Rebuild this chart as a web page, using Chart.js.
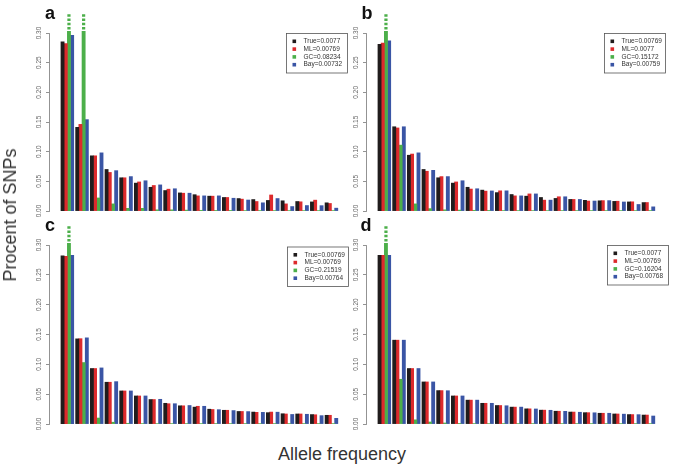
<!DOCTYPE html>
<html><head><meta charset="utf-8">
<script src="https://cdn.jsdelivr.net/npm/chart.js@4.4.0/dist/chart.umd.min.js"></script>
<style>
html,body{margin:0;padding:0;background:#fff;}
#wrap{position:relative;width:683px;height:467px;overflow:hidden;font-family:"Liberation Sans",Arial,sans-serif;background:#fff;}
canvas{position:absolute;}
#ytitle{position:absolute;left:10px;top:215px;transform:translate(-50%,-50%) rotate(-90deg);font-size:18px;line-height:18px;color:#333;white-space:nowrap;}
#xtitle{position:absolute;left:342px;top:445px;transform:translateX(-50%);font-size:18px;line-height:18px;color:#333;white-space:nowrap;}
</style></head>
<body>
<div id="wrap">
<canvas id="pa" width="350" height="222" style="left:0;top:0"></canvas>
<canvas id="pb" width="353" height="222" style="left:330px;top:0"></canvas>
<canvas id="pc" width="350" height="222" style="left:0;top:212px"></canvas>
<canvas id="pd" width="353" height="222" style="left:330px;top:212px"></canvas>
<div id="ytitle">Procent of SNPs</div>
<div id="xtitle">Allele frequency</div>
</div>
<script>
// ---- data ----
const categories = [1,2,3,4,5,6,7,8,9,10,11,12,13,14,15,16,17,18,19];
const seriesNames = ['True','ML','GC','Bay'];
const yTicks = [0, 0.05, 0.10, 0.15, 0.20, 0.25, 0.30];
const yTickLabels = ['0.00','0.05','0.10','0.15','0.20','0.25','0.30'];

const aTrue = [0.285,0.141,0.093,0.070,0.056,0.047,0.040,0.0345,0.0305,0.0275,0.025,0.0228,0.021,0.0193,0.0178,0.0172,0.016,0.0153,0.0138];
const aML   = [0.282,0.146,0.093,0.065,0.056,0.049,0.043,0.0368,0.030,0.0255,0.025,0.0228,0.020,0.016,0.027,0.012,0.0155,0.0183,0.0127];
const aGC   = [0.45,0.38,0.022,0.012,0.0045,0.0045,0.002,0.002,0.0015,0.0012,0.001,0.001,0.0008,0.0008,0.0008,0.0006,0.0006,0.0005,0.0005];
const aBay  = [0.296,0.154,0.098,0.068,0.058,0.051,0.044,0.0375,0.030,0.0255,0.0255,0.0215,0.0185,0.0138,0.021,0.0075,0.0092,0.009,0.0048];
const aLegend = ['0.0077','0.00769','0.08234','0.00732'];

const bTrue = [0.281,0.142,0.094,0.070,0.056,0.047,0.040,0.0352,0.031,0.0278,0.025,0.0228,0.0212,0.0195,0.018,0.0172,0.0162,0.0153,0.0142];
const bML   = [0.283,0.140,0.096,0.067,0.058,0.049,0.037,0.0335,0.034,0.0255,0.0288,0.0183,0.024,0.0195,0.0168,0.0175,0.0165,0.0155,0.0143];
const bGC   = [0.42,0.111,0.012,0.004,0.002,0.0015,0.0012,0.001,0.0008,0.0008,0.0006,0.0006,0.0005,0.0005,0.0004,0.0004,0.0003,0.0003,0.0003];
const bBay  = [0.287,0.142,0.098,0.0685,0.058,0.051,0.0375,0.0338,0.034,0.0255,0.0288,0.0183,0.024,0.0195,0.0168,0.0175,0.0152,0.011,0.007];
const bLegend = ['0.00769','0.0077','0.15172','0.00759'];

const cTrue = [0.282,0.1427,0.093,0.070,0.0554,0.047,0.041,0.0347,0.0305,0.0283,0.0248,0.023,0.021,0.020,0.019,0.0172,0.0168,0.0158,0.0146];
const cML   = [0.281,0.143,0.093,0.070,0.0554,0.047,0.041,0.034,0.0305,0.0297,0.0243,0.023,0.021,0.0196,0.020,0.0168,0.0168,0.0155,0.0146];
const cGC   = [0.48,0.103,0.010,0.003,0.0012,0.0008,0.0006,0.0005,0.0004,0.0004,0.0003,0.0003,0.0003,0.0003,0.0002,0.0002,0.0002,0.0002,0.0002];
const cBay  = [0.2826,0.1444,0.094,0.071,0.0554,0.047,0.0414,0.034,0.031,0.0297,0.024,0.0225,0.0208,0.0195,0.0198,0.016,0.0163,0.014,0.0095];
const cLegend = ['0.00769','0.00769','0.21519','0.00764'];

const dTrue = [0.2826,0.1405,0.093,0.0705,0.056,0.047,0.040,0.0347,0.031,0.0283,0.0254,0.0232,0.0214,0.020,0.019,0.018,0.0168,0.0158,0.015];
const dML   = [0.2826,0.1405,0.093,0.0705,0.056,0.047,0.040,0.0347,0.031,0.0283,0.0254,0.0232,0.0214,0.020,0.019,0.018,0.0168,0.0158,0.015];
const dGC   = [0.44,0.075,0.007,0.0034,0.0017,0.001,0.0008,0.0006,0.0005,0.0004,0.0004,0.0003,0.0003,0.0003,0.0002,0.0002,0.0002,0.0002,0.0002];
const dBay  = [0.2826,0.1405,0.093,0.0705,0.0558,0.047,0.040,0.0347,0.0306,0.0283,0.0252,0.023,0.0212,0.0197,0.0188,0.018,0.0165,0.0157,0.0134];
const dLegend = ['0.0077','0.00769','0.16204','0.00768'];

// ---- styles ----
const colors = ['#201c1c','#dd2a2c','#4caf4a','#3a55a5'];
const FONT = '"Liberation Sans", Arial, sans-serif';

const rPlugin = {
  id: 'rstyle',
  afterDatasetsDraw(chart, args, opts) {
    const ctx = chart.ctx, ys = chart.scales.y, top = chart.chartArea.top;
    chart.data.datasets.forEach((ds, di) => {
      const meta = chart.getDatasetMeta(di);
      meta.data.forEach((bar, i) => {
        if (ds.data[i].y > ys.max) {
          ctx.save();
          ctx.strokeStyle = ds.backgroundColor;
          ctx.lineWidth = bar.width;
          ctx.setLineDash([2.5, 1.7]);
          ctx.beginPath();
          ctx.moveTo(bar.x, top - 3.6);
          ctx.lineTo(bar.x, top - 19);
          ctx.stroke();
          ctx.restore();
        }
      });
    });
  },
  afterDraw(chart, args, opts) {
    const ctx = chart.ctx, ys = chart.scales.y;
    ctx.save();
    ctx.fillStyle = '#666';
    ctx.font = '6.5px ' + FONT;
    ctx.textAlign = 'center';
    ctx.textBaseline = 'middle';
    yTicks.forEach((v, i) => {
      const py = ys.getPixelForValue(v);
      ctx.save();
      ctx.translate(ys.right - 10, py);
      ctx.rotate(-Math.PI / 2);
      ctx.fillText(yTickLabels[i], 0, 0);
      ctx.restore();
    });
    ctx.restore();
    const lx = opts.legendX, ly = opts.legendY, lw = 61, lh = 39.5;
    ctx.save();
    ctx.fillStyle = '#fff';
    ctx.fillRect(lx, ly, lw, lh);
    ctx.strokeStyle = '#555';
    ctx.lineWidth = 0.8;
    ctx.strokeRect(lx + 0.5, ly + 0.5, lw, lh);
    ctx.font = '6.5px ' + FONT;
    ctx.textBaseline = 'middle';
    ctx.textAlign = 'left';
    seriesNames.forEach((n, i) => {
      const cy = ly + 8.3 + i * 7.8;
      ctx.fillStyle = colors[i];
      ctx.fillRect(lx + 6.5, cy - 1.8, 3.6, 3.6);
      ctx.fillStyle = '#333';
      ctx.fillText(n + '=' + opts.values[i], lx + 17.5, cy);
    });
    ctx.fillStyle = '#111';
    ctx.font = 'bold 18px ' + FONT;
    ctx.textBaseline = 'alphabetic';
    ctx.fillText(opts.letter, opts.letterX, 19);
    ctx.restore();
  }
};

function makePanel(id, seriesList, legendVals, cfg) {
  const datasets = seriesList.map((vals, si) => ({
    label: seriesNames[si],
    data: vals.map((v, i) => ({ x: categories[i], y: v })),
    backgroundColor: colors[si],
    borderWidth: 0,
    barThickness: 3.2,
    clip: { left: 0, top: 2, right: 0, bottom: 0 }
  }));
  new Chart(document.getElementById(id), {
    type: 'bar',
    data: { datasets },
    options: {
      responsive: false,
      animation: false,
      devicePixelRatio: 1,
      layout: { padding: { top: 33, bottom: cfg.padBottom, left: 0, right: cfg.padRight } },
      plugins: {
        legend: { display: false },
        tooltip: { enabled: false },
        rstyle: { legendX: cfg.legendX, legendY: cfg.legendY, values: legendVals, letter: cfg.letter, letterX: cfg.letterX }
      },
      scales: {
        x: {
          type: 'linear', display: false, offset: false, min: -0.251, max: 19.72,
          grid: { offset: false },
          ticks: { stepSize: 1, includeBounds: false }
        },
        y: {
          min: 0, max: 0.30,
          afterFit: (s) => { s.width = cfg.yWidth; },
          afterBuildTicks: (s) => { s.ticks = yTicks.map(v => ({ value: v })); },
          ticks: { display: false },
          grid: { display: true, drawOnChartArea: false, drawTicks: true, tickLength: 3, color: '#777', lineWidth: 0.8 },
          border: { display: true, color: '#777', width: 0.8 }
        }
      }
    },
    plugins: [rPlugin]
  });
}

makePanel('pa', [aTrue, aML, aGC, aBay], aLegend, { padBottom: 11, padRight: 8, yWidth: 49, legendX: 286, legendY: 33, letter: 'a', letterX: 45 });
makePanel('pb', [bTrue, bML, bGC, bBay], bLegend, { padBottom: 11, padRight: 24, yWidth: 36, legendX: 274, legendY: 33, letter: 'b', letterX: 31.5 });
makePanel('pc', [cTrue, cML, cGC, cBay], cLegend, { padBottom: 10, padRight: 8, yWidth: 49, legendX: 287, legendY: 34.5, letter: 'c', letterX: 45 });
makePanel('pd', [dTrue, dML, dGC, dBay], dLegend, { padBottom: 10, padRight: 24, yWidth: 36, legendX: 277, legendY: 33, letter: 'd', letterX: 30.5 });
</script>
</body></html>
